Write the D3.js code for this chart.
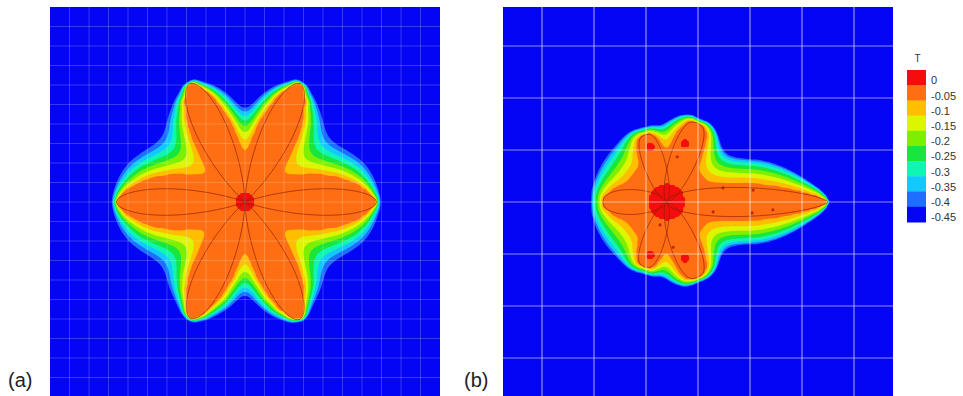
<!DOCTYPE html>
<html>
<head>
<meta charset="utf-8">
<script src="https://cdn.jsdelivr.net/npm/d3@7"></script>
<style>
  html, body { margin: 0; padding: 0; background: #ffffff; }
  svg { display: block; font-family: "Liberation Sans", Arial, sans-serif; }
</style>
</head>
<body>
<svg id="chart" width="963" height="396"></svg>
<script>
// ---- temperature levels shown in the legend (top = warmest) ----
const levelLabels = ["0", "-0.05", "-0.1", "-0.15", "-0.2", "-0.25", "-0.3", "-0.35", "-0.4", "-0.45"];
const levelValues = [0, -0.05, -0.1, -0.15, -0.2, -0.25, -0.3, -0.35, -0.4, -0.45];
const levelColors = ["#f50c0c", "#ff6e12", "#ffbe00", "#dcf500", "#7cf000", "#18e63c", "#10f5b4", "#12c8ff", "#1e6eff", "#0505f5"];

// ---- panel (a): six-armed dendrite (grid units, angles in degrees, y up) ----
const armAngleA  = [0, 65, 115, 180, 245, 295];
const armLengthA = [6.75, 6.7, 6.7, 6.6, 6.6, 6.65];
const armWidthA  = [0.68, 0.8, 0.8, 0.68, 0.8, 0.8];
const armRootA   = [0.9, 0.9, 0.9, 0.9, 0.9, 0.9];
const armTipA    = [0.55, 0.55, 0.55, 0.55, 0.55, 0.55];
// warm liquid layer hugging each arm
const layerWidthA = [1.35, 1.05, 1.05, 1.35, 1.05, 1.05];
const layerRootA  = [0.8, 0.8, 0.8, 0.8, 0.8, 0.8];
const layerTipA   = [0.7, 0.65, 0.65, 0.7, 0.65, 0.65];
const layerCoreA  = 1.5;
const coreA      = [0, 0, 0.5];              // x, y, radius of the hot core
const spotXA = [], spotYA = [], spotRA = [];
const dotXA = [], dotYA = [];
// thermal boundary-layer thickness (px) against distance from the nearest tip (grid units)
const tipDistA = [0, 0.77, 2.05, 4.5];
const layerPxA = [2, 5, 11, 12];
// thickening between the horizontal and slanted arms, by |sin| of the polar angle
const polarSinA  = [0, 0.5, 0.8, 1];
const polarGainA = [1.2, 1.6, 1, 0.75];

// ---- panel (b): dendrite growing in a flow ----
const armAngleB  = [0, 69, 108, 180, 251, 292];
const armLengthB = [3.1, 1.63, 1.36, 1.23, 1.32, 1.57];
const armWidthB  = [0.28, 0.26, 0.21, 0.24, 0.21, 0.26];
const armRootB   = [0.5, 0.6, 0.6, 0.6, 0.6, 0.6];
const armTipB    = [0.7, 0.35, 0.35, 0.45, 0.35, 0.35];
const layerWidthB = [0.33, 0.3, 0.24, 0.38, 0.24, 0.3];
const layerRootB  = [0.5, 0.6, 0.6, 0.35, 0.6, 0.6];
const layerTipB   = [0.7, 0.3, 0.3, 0.6, 0.3, 0.3];
const layerCoreB  = 0.8;
const coreB      = [-0.6, 0, 0.35];
const spotXB = [-0.92, -0.25, -0.92, -0.25];
const spotYB = [1.06, 1.13, -1.02, -1.08];
const spotRB = [0.08, 0.08, 0.08, 0.08];
// small dark side-branch buds along the interface
const dotXB = [0.48, 1.06, 1.44, 1.04, 0.29, -0.40, -0.73, -0.48];
const dotYB = [0.27, 0.23, -0.15, -0.21, -0.19, 0.87, -0.44, -0.87];
const tipDistB = [0, 0.38, 0.96, 1.73];
const layerPxB = [2, 7, 14, 20];
// downstream thickening of the layer, by x offset from the core (grid units)
const flowXB = [-1.5, 0, 3];
const flowGainB = [2.0, 1.1, 0.85];

const gridTicksA = d3.range(-9, 10);
const gridTicksB = d3.range(-3, 4);

const svg = d3.select("#chart");
const SIZE = 390;

const panels = [
  {
    id: "a", x0: 50, y0: 7, half: 10, ticks: gridTicksA,
    angle: armAngleA, len: armLengthA, width: armWidthA, root: armRootA, tip: armTipA,
    lw: layerWidthA, lr: layerRootA, lt: layerTipA, lcore: layerCoreA,
    core: coreA, sx: spotXA, sy: spotYA, sr: spotRA, dx: dotXA, dy: dotYA,
    tipDist: tipDistA, layerPx: layerPxA, flowX: [-1, 1], flowGain: [1, 1],
    polarSin: polarSinA, polarGain: polarGainA, rampSpan: 2.2, rampPow: 1,
    gridOpacity: 0.2, gridWidth: 1
  },
  {
    id: "b", x0: 503, y0: 7, half: 3.75, ticks: gridTicksB,
    angle: armAngleB, len: armLengthB, width: armWidthB, root: armRootB, tip: armTipB,
    lw: layerWidthB, lr: layerRootB, lt: layerTipB, lcore: layerCoreB,
    core: coreB, sx: spotXB, sy: spotYB, sr: spotRB, dx: dotXB, dy: dotYB,
    tipDist: tipDistB, layerPx: layerPxB, flowX: flowXB, flowGain: flowGainB,
    polarSin: [0, 1], polarGain: [1, 1], rampSpan: 1.8, rampPow: 0.55,
    gridOpacity: 0.55, gridWidth: 1.2
  }
];

function petal(angleDeg, L, wMax, a, b) {
  const th = angleDeg * Math.PI / 180;
  const tm = a / (a + b);
  const norm = Math.pow(tm, a) * Math.pow(1 - tm, b);
  return {
    c: Math.cos(th), s: Math.sin(th), L: L,
    w: (t) => t <= 0 || t >= 1 ? 0 : wMax * Math.pow(t, a) * Math.pow(1 - t, b) / norm
  };
}
function insidePetal(g, dx, dy) {
  const u = dx * g.c + dy * g.s, v = -dx * g.s + dy * g.c;
  const t = u / g.L;
  return t > 0 && t < 1 && Math.abs(v) < g.w(t);
}

panels.forEach(cfg => {
  const xs = d3.scaleLinear().domain([-cfg.half, cfg.half]).range([cfg.x0, cfg.x0 + SIZE]);
  const ys = d3.scaleLinear().domain([-cfg.half, cfg.half]).range([cfg.y0 + SIZE, cfg.y0]);
  const n = 195, h = SIZE / n;
  const gx = d3.scaleLinear().domain([0, n]).range([cfg.x0, cfg.x0 + SIZE]);
  const gy = d3.scaleLinear().domain([0, n]).range([cfg.y0, cfg.y0 + SIZE]);
  const cx = cfg.core[0], cy = cfg.core[1];
  const arms = cfg.angle.map((a, k) => petal(a, cfg.len[k], cfg.width[k], cfg.root[k], cfg.tip[k]));
  const layers = cfg.angle.map((a, k) => petal(a, cfg.len[k], cfg.lw[k], cfg.lr[k], cfg.lt[k]));
  const tips = arms.map(g => [cx + g.L * g.c, cy + g.L * g.s]);
  const lambdaOfTip = d3.scaleLinear().domain(cfg.tipDist).range(cfg.layerPx).clamp(true);
  const flow = d3.scaleLinear().domain(cfg.flowX).range(cfg.flowGain).clamp(true);
  const polar = d3.scaleLinear().domain(cfg.polarSin).range(cfg.polarGain).clamp(true);

  // masks: 1 = warm liquid / solid (fixed), 2 = hot core
  const state = new Uint8Array(n * n);
  const denom = new Float32Array(n * n);
  const u = new Float32Array(n * n);
  for (let j = 0; j < n; j++) {
    const Y = ys.invert(gy(j + 0.5));
    for (let i = 0; i < n; i++) {
      const X = xs.invert(gx(i + 0.5));
      const dx = X - cx, dy = Y - cy;
      const r = Math.hypot(dx, dy);
      const k = j * n + i;
      let hot = r < cfg.core[2];
      for (let q = 0; q < cfg.sx.length && !hot; q++) {
        if (Math.hypot(X - cfg.sx[q], Y - cfg.sy[q]) < cfg.sr[q]) hot = true;
      }
      let warm = r < cfg.lcore;
      for (let q = 0; q < arms.length && !warm; q++) {
        if (insidePetal(layers[q], dx, dy) || insidePetal(arms[q], dx, dy)) warm = true;
      }
      state[k] = hot ? 2 : (warm ? 1 : 0);
      if (state[k]) u[k] = 1;
      let dt = Infinity;
      tips.forEach(p => { dt = Math.min(dt, Math.hypot(X - p[0], Y - p[1])); });
      const lam = lambdaOfTip(dt) * flow(dx) * polar(r > 0 ? Math.abs(dy) / r : 0);
      denom[k] = 4 + (h / lam) * (h / lam);
    }
  }

  // screened diffusion from the warm region into the cold melt (SOR sweeps)
  const omega = 1.85;
  for (let it = 0; it < 700; it++) {
    for (let j = 1; j < n - 1; j++) {
      for (let i = 1; i < n - 1; i++) {
        const k = j * n + i;
        if (state[k]) continue;
        const val = (u[k - 1] + u[k + 1] + u[k - n] + u[k + n]) / denom[k];
        u[k] += omega * (val - u[k]);
      }
    }
  }

  // level ramp, linear in the log of the diffused warmth
  const ramp = (v) => {
    const s = Math.max(0, Math.min(1, 1 + Math.log(Math.max(v, 1e-9)) / cfg.rampSpan));
    return Math.pow(s, cfg.rampPow);
  };
  const values = new Array(n * n);
  for (let k = 0; k < n * n; k++) {
    values[k] = state[k] === 2 ? 0 : (state[k] === 1 ? -0.05 : -0.5 + 0.45 * ramp(u[k]));
  }

  const thresholds = levelValues.slice(0, 9).map(v => v - 0.025);
  const contours = d3.contours().size([n, n]).thresholds(thresholds)(values);
  const path = d3.geoPath(d3.geoTransform({
    point: function (x, y) { this.stream.point(gx(x), gy(y)); }
  }));

  const clipId = "clip-" + cfg.id;
  svg.append("clipPath").attr("id", clipId)
    .append("rect").attr("x", cfg.x0).attr("y", cfg.y0).attr("width", SIZE).attr("height", SIZE);

  const g = svg.append("g").attr("clip-path", `url(#${clipId})`);
  g.append("rect")
    .attr("x", xs(-cfg.half)).attr("y", ys(cfg.half))
    .attr("width", xs(cfg.half) - xs(-cfg.half)).attr("height", ys(-cfg.half) - ys(cfg.half))
    .attr("fill", levelColors[9]);

  g.selectAll("path.band")
    .data(contours)
    .join("path")
    .attr("class", "band")
    .attr("d", path)
    .attr("fill", (d) => levelColors[thresholds.indexOf(d.value)]);

  // solid arm outlines
  const line = d3.line().x(p => xs(p[0])).y(p => ys(p[1])).curve(d3.curveLinearClosed);
  const ts = d3.range(0, 1.0001, 1 / 80);
  arms.forEach(a => {
    const pts = [];
    ts.forEach(t => pts.push([t * a.L, a.w(t)]));
    ts.slice().reverse().forEach(t => pts.push([t * a.L, -a.w(t)]));
    const world = pts.map(([uu, vv]) => [cx + uu * a.c - vv * a.s, cy + uu * a.s + vv * a.c]);
    g.append("path").attr("d", line(world))
      .attr("fill", "none").attr("stroke", "#8a1e06").attr("stroke-width", 0.8).attr("stroke-opacity", 0.85);
  });

  g.selectAll("circle.bud").data(cfg.dx).join("circle").attr("class", "bud")
    .attr("cx", d => xs(d)).attr("cy", (d, i) => ys(cfg.dy[i])).attr("r", 1.6)
    .attr("fill", "#b0200a").attr("fill-opacity", 0.85);

  // grid
  g.selectAll("line.vx").data(cfg.ticks).join("line").attr("class", "vx")
    .attr("x1", d => xs(d)).attr("x2", d => xs(d))
    .attr("y1", cfg.y0).attr("y2", cfg.y0 + SIZE)
    .attr("stroke", "#ffffff").attr("stroke-opacity", cfg.gridOpacity).attr("stroke-width", cfg.gridWidth);
  g.selectAll("line.hy").data(cfg.ticks).join("line").attr("class", "hy")
    .attr("y1", d => ys(d)).attr("y2", d => ys(d))
    .attr("x1", cfg.x0).attr("x2", cfg.x0 + SIZE)
    .attr("stroke", "#ffffff").attr("stroke-opacity", cfg.gridOpacity).attr("stroke-width", cfg.gridWidth);
});

// panel letters
svg.append("text").attr("x", 8).attr("y", 387).attr("font-size", 20).attr("fill", "#222").text("(a)");
svg.append("text").attr("x", 464).attr("y", 387).attr("font-size", 20).attr("fill", "#222").text("(b)");

// colour legend
const barX = 907, barW = 19, barTop = 70, barH = 152;
const bandY = d3.scaleBand().domain(levelLabels).range([barTop, barTop + barH]);
svg.append("text").attr("x", barX + barW / 2 + 1).attr("y", 62).attr("text-anchor", "middle")
  .attr("font-size", 10).attr("fill", "#333").text("T");
svg.selectAll("rect.key").data(levelLabels).join("rect").attr("class", "key")
  .attr("x", barX).attr("y", d => bandY(d)).attr("width", barW).attr("height", bandY.bandwidth() + 0.5)
  .attr("fill", (d, i) => levelColors[i]);
svg.selectAll("text.key").data(levelLabels).join("text").attr("class", "key")
  .attr("x", 931).attr("y", d => bandY(d) + bandY.bandwidth() / 2 + 3)
  .attr("dy", "0.35em").attr("font-size", 11).attr("fill", "#333").text(d => d);
</script>
</body>
</html>
